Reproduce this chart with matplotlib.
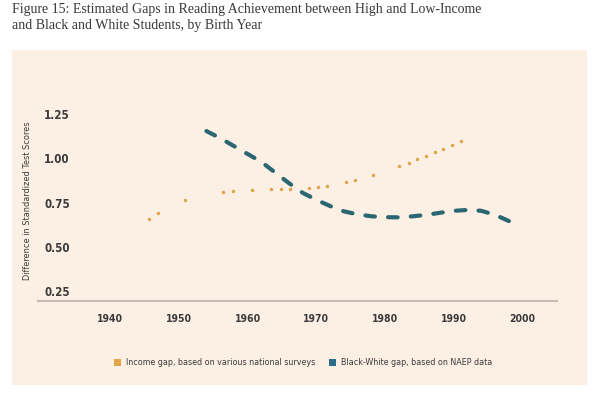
import matplotlib
matplotlib.use("Agg")
import matplotlib.pyplot as plt
from matplotlib.patches import Rectangle
import numpy as np

# ---- data ----
income_years = [1945.7, 1946.9, 1950.9, 1956.4, 1957.8, 1960.6, 1963.4, 1964.8, 1966.1,
                1968.9, 1970.2, 1971.6, 1974.3, 1975.6, 1978.2, 1982.0, 1983.4, 1984.7,
                1985.9, 1987.2, 1988.4, 1989.7, 1991.0]
income_gap = [0.654, 0.688, 0.767, 0.812, 0.816, 0.822, 0.826, 0.826, 0.828,
              0.832, 0.838, 0.846, 0.867, 0.876, 0.905, 0.956, 0.976, 0.995,
              1.016, 1.035, 1.056, 1.076, 1.097]

bw_years = [1954, 1956, 1958, 1960, 1962, 1964, 1966, 1968, 1970, 1972, 1974, 1976,
            1978, 1980, 1982, 1984, 1986, 1988, 1990, 1992, 1994, 1996, 1998]
bw_gap = [1.155, 1.115, 1.07, 1.025, 0.98, 0.92, 0.86, 0.805, 0.765, 0.73, 0.70, 0.683,
          0.672, 0.667, 0.666, 0.672, 0.68, 0.692, 0.703, 0.708, 0.703, 0.68, 0.645]

x_ticks = [1940, 1950, 1960, 1970, 1980, 1990, 2000]
y_ticks = [0.25, 0.50, 0.75, 1.00, 1.25]
y_tick_labels = ["0.25", "0.50", "0.75", "1.00", "1.25"]

title = ("Figure 15: Estimated Gaps in Reading Achievement between High and Low-Income\n"
         "and Black and White Students, by Birth Year")
y_label = "Difference in Standardized Test Scores"
legend_labels = ["Income gap, based on various national surveys",
                 "Black-White gap, based on NAEP data"]

# ---- style ----
narrow = "DejaVu Sans"
stretch = "condensed"
serif = "Liberation Serif"

W, H = 599, 395
DPI = 100
fig = plt.figure(figsize=(W / DPI, H / DPI), dpi=DPI)
fig.patch.set_facecolor("white")

panel_color = "#fcf0e4"
orange = "#e3a347"
teal = "#2b6773"
teal_legend = "#2a6c86"
text_dark = "#3a3a3a"

# cream panel
fig.patches.append(Rectangle((12 / W, 1 - 385 / H), (587 - 12) / W, (385 - 50) / H,
                             transform=fig.transFigure, facecolor=panel_color,
                             edgecolor="none", zorder=-5))

fig.text(12 / W, 1 - 3 / H, title, ha="left", va="top", family=serif,
         fontsize=10.0, color="#383838", linespacing=1.3)

ax = fig.add_axes([38 / W, 1 - 301 / H, (557 - 38) / W, (301 - 100) / H])
ax.set_zorder(2)
ax.set_facecolor("none")
ax.set_xlim(1929.5, 2005.0)
ax.set_ylim(0.192, 1.331)

ax.plot(income_years, income_gap, linestyle="none", marker="o", markersize=2.5,
        color=orange, markeredgewidth=0)

# fit the dash pattern so the line starts and ends with a dash
lw = 3.0
on, off0 = 2.3, 3.0
pix = ax.transData.transform(np.column_stack([bw_years, bw_gap]))
length_pt = np.sum(np.hypot(*np.diff(pix, axis=0).T)) * 72.0 / DPI
L = length_pt / lw
n = max(1, int(round((L - on) / (on + off0))))
off = (L - on) / n - on
ax.plot(bw_years, bw_gap, color=teal, linewidth=lw, dashes=(on, off),
        dash_capstyle="round", solid_capstyle="round")

for s in ["top", "right", "left"]:
    ax.spines[s].set_visible(False)
ax.spines["bottom"].set_color("#c4bdb6")
ax.spines["bottom"].set_linewidth(1.5)

ax.set_xticks(x_ticks)
ax.set_xticklabels([str(x) for x in x_ticks], family=narrow, fontweight="bold",
                   fontstretch=stretch, fontsize=7.5, color=text_dark)
ax.set_yticks(y_ticks)
ax.set_yticklabels(y_tick_labels, family=narrow, fontweight="bold", fontstretch=stretch,
                   fontsize=8.3, color=text_dark, ha="left")
ax.tick_params(axis="x", length=0, pad=9)
ax.tick_params(axis="y", length=0, pad=-4.5)

fig.text(28 / W, 1 - 201 / H, y_label, rotation=90, ha="center", va="center",
         family=narrow, fontstretch=stretch, fontsize=6.6, color=text_dark)

# legend
for (x0, col, lab) in [(114, orange, legend_labels[0]), (329, teal_legend, legend_labels[1])]:
    fig.patches.append(Rectangle((x0 / W, 1 - 366 / H), 7 / W, 7 / H,
                                 transform=fig.transFigure, facecolor=col,
                                 edgecolor="none", zorder=2))
    fig.text((x0 + 12) / W, 1 - 362.5 / H, lab, ha="left", va="center",
             family=narrow, fontstretch=stretch, fontsize=6.4, color=text_dark)

fig.savefig("out.png", dpi=DPI, facecolor="white")
